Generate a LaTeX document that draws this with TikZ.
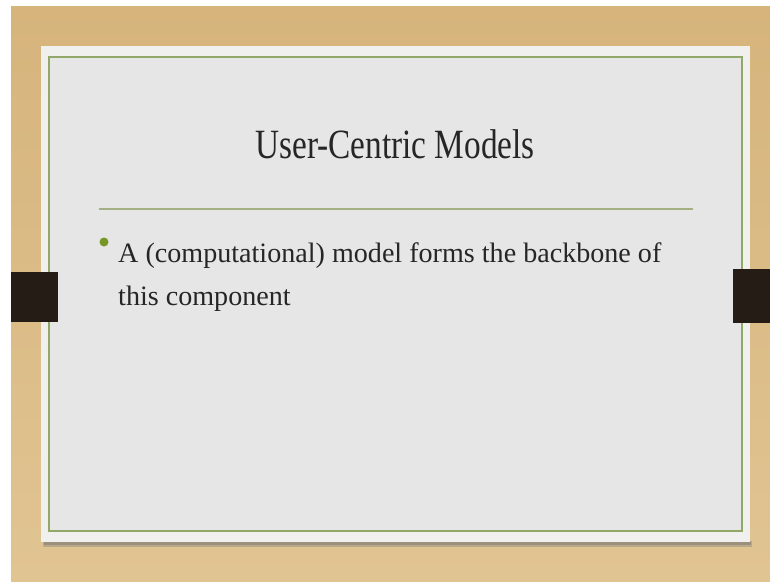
\documentclass[tikz,border=0pt]{standalone}
\usepackage{fontspec}
\setmainfont{Liberation Serif}
\usepackage{graphicx}
\usepackage{tikz}
\usetikzlibrary{positioning}
\definecolor{woodtan}{RGB}{214,180,124}
\definecolor{woodlight}{RGB}{224,196,146}
\definecolor{paperwhite}{RGB}{240,240,238}
\definecolor{slidegray}{RGB}{230,230,230}
\definecolor{framegreen}{RGB}{145,168,105}
\definecolor{rulegreen}{RGB}{163,176,132}
\definecolor{tabbrown}{RGB}{38,28,22}
\definecolor{dotgreen}{RGB}{118,150,38}
\definecolor{inktext}{RGB}{38,38,38}

\begin{document}
\begin{tikzpicture}[x=1pt,y=-1pt,
    every node/.style={inner sep=0pt, text=inktext},
    bodytext/.style={anchor=base west, font=\fontsize{28.1}{34}\selectfont}]
  \useasboundingbox (0,0) rectangle (770,581);
  % wood and paper
  \fill[white] (0,0) rectangle (770,581);
  \shade[top color=woodtan, bottom color=woodlight] (11,6) rectangle (770,581);
  \fill[black!50, opacity=0.4] (43,541) rectangle (752,547);
  \fill[black!60, opacity=0.35] (44,542) rectangle (751,545);
  \fill[paperwhite] (41,46) rectangle (750,542);
  \fill[slidegray] (49,57) rectangle (742,531);
  \draw[framegreen, line width=1.8pt] (49,57) rectangle (742,531);
  % side tabs
  \fill[tabbrown] (11,272) rectangle (58,322);
  \fill[tabbrown] (733,269) rectangle (770,323);
  % title and rule
  \node[anchor=base, font=\fontsize{33.3}{40}\selectfont] (title) at (395,158)
    {\scalebox{1}[1.25]{User-Centric Models}};
  \draw[rulegreen, line width=2.6pt] (99,209) -- (693,209);
  % bullet
  \node[circle, fill=dotgreen, minimum size=9pt] (dot) at (104,242) {};
  \node[bodytext] (line1) at (118,262) {A (computational) model forms the backbone of};
  \node[bodytext] (line2) at ([yshift=-43pt]line1.base west) {this component};
\end{tikzpicture}
\end{document}
